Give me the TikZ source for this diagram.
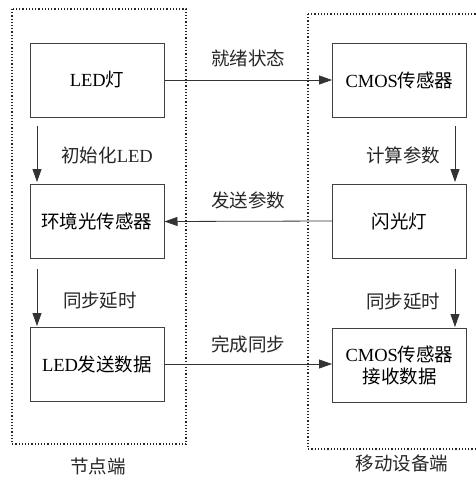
\documentclass[tikz,border=0pt]{standalone}
\usepackage{fontspec}
\setmainfont{Liberation Serif}
\newfontfamily\cjk{Noto Sans CJK SC}
\usetikzlibrary{arrows.meta}
\begin{document}
\begin{tikzpicture}[x=1pt,y=-1pt,
  box/.style={draw=black!75,line width=1pt,minimum width=134pt,minimum height=74pt,inner sep=0pt,align=center,font=\fontsize{18.5}{22}\selectfont},
  zone/.style={draw=black!85,line width=1.2pt,dotted},
  arr/.style={draw=black!80,line width=0.8pt,-{Triangle[length=13pt,width=9pt]}},
  lbl/.style={font=\fontsize{18.5}{22}\selectfont,text=black!85,inner sep=0pt}]
\useasboundingbox (0,0) rectangle (475,477);
\draw[zone] (12,9) rectangle (186,444);
\draw[zone] (308,14) rectangle (480,449);
\node[box] (l1) at (97,80) {LED{\cjk 灯}};
\node[box] (l2) at (97,221.5) {{\cjk 环境光传感器}};
\node[box] (l3) at (97,364) {LED{\cjk 发送数据}};
\node[box] (r1) at (399.5,80) {CMOS{\cjk 传感器}};
\node[box] (r2) at (399.5,221) {{\cjk 闪光灯}};
\node[box] (r3) at (399.5,365.5) {CMOS{\cjk 传感器}\\{\cjk 接收数据}};
\coordinate (a1s) at (37,126);
\coordinate (a1e) at (37,182);
\coordinate (a2s) at (37,269);
\coordinate (a2e) at (37,326);
\coordinate (b1s) at (455,126);
\coordinate (b1e) at (455,182);
\coordinate (b2s) at (455,269);
\coordinate (b2e) at (455,327);
\draw[arr] (a1s) -- (a1e);
\draw[arr] (a2s) -- (a2e);
\draw[arr] (b1s) -- (b1e);
\draw[arr] (b2s) -- (b2e);
\draw[arr] (l1.east) -- (r1.west);
\draw[arr] (r2.west) -- (l2.east);
\draw[arr] (l3.east) -- (l3.east -| r3.west);
\node[lbl] (t1) at (107,155) {{\cjk 初始化}LED};
\node[lbl] (t2) at (100,301) {{\cjk 同步延时}};
\node[lbl] (t3) at (403,155) {{\cjk 计算参数}};
\node[lbl] (t4) at (403,302) {{\cjk 同步延时}};
\node[lbl] (t5) at (248,58) {{\cjk 就绪状态}};
\node[lbl] (t6) at (248,200) {{\cjk 发送参数}};
\node[lbl] (t7) at (248,344) {{\cjk 完成同步}};
\node[lbl] (t8) at (98,466) {{\cjk 节点端}};
\node[lbl] (t9) at (402,463) {{\cjk 移动设备端}};
\end{tikzpicture}
\end{document}
